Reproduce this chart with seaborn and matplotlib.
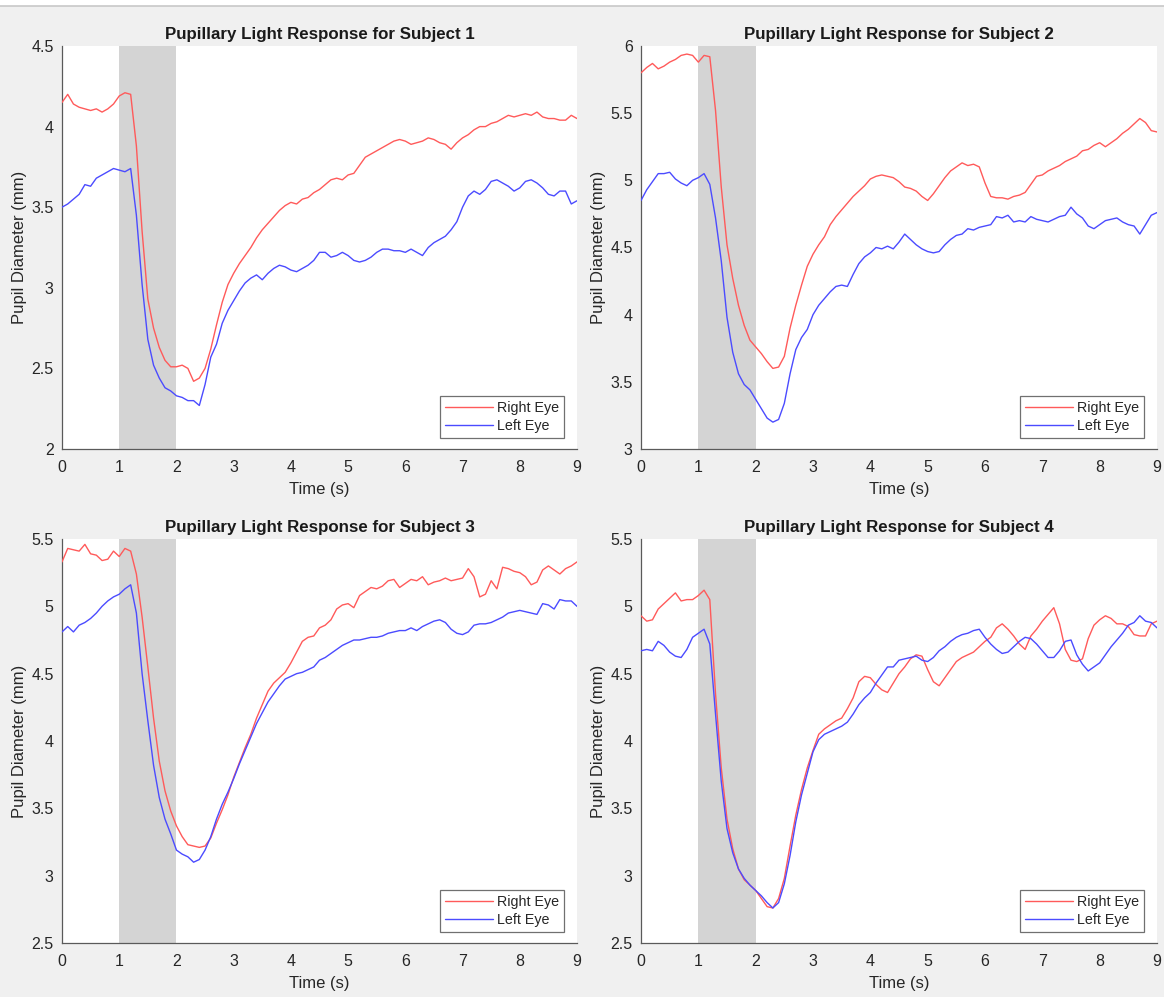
import numpy as np
import pandas as pd
import seaborn as sns
import matplotlib
matplotlib.use("Agg")
import matplotlib.pyplot as plt
from matplotlib.ticker import FuncFormatter, MultipleLocator
from matplotlib.lines import Line2D

# ---------------- data (0.1 s steps) ----------------
time_s = [round(0.1 * i, 1) for i in range(91)]

s1_right = [4.15, 4.20, 4.14, 4.12, 4.11, 4.10, 4.11, 4.09, 4.11, 4.14,
            4.19, 4.21, 4.20, 3.88, 3.35, 2.93, 2.75, 2.63, 2.55, 2.51,
            2.51, 2.52, 2.50, 2.42, 2.44, 2.50, 2.62, 2.77, 2.91, 3.02,
            3.09, 3.15, 3.20, 3.25, 3.31, 3.36, 3.40, 3.44, 3.48, 3.51,
            3.53, 3.52, 3.55, 3.56, 3.59, 3.61, 3.64, 3.67, 3.68, 3.67,
            3.70, 3.71, 3.76, 3.81, 3.83, 3.85, 3.87, 3.89, 3.91, 3.92,
            3.91, 3.89, 3.90, 3.91, 3.93, 3.92, 3.90, 3.89, 3.86, 3.90,
            3.93, 3.95, 3.98, 4.00, 4.00, 4.02, 4.03, 4.05, 4.07, 4.06,
            4.07, 4.08, 4.07, 4.09, 4.06, 4.05, 4.05, 4.04, 4.04, 4.07,
            4.05]
s1_left = [3.50, 3.52, 3.55, 3.58, 3.64, 3.63, 3.68, 3.70, 3.72, 3.74,
           3.73, 3.72, 3.74, 3.45, 3.02, 2.68, 2.52, 2.44, 2.38, 2.36,
           2.33, 2.32, 2.30, 2.30, 2.27, 2.40, 2.57, 2.65, 2.78, 2.86,
           2.92, 2.98, 3.03, 3.06, 3.08, 3.05, 3.09, 3.12, 3.14, 3.13,
           3.11, 3.10, 3.12, 3.14, 3.17, 3.22, 3.22, 3.19, 3.20, 3.22,
           3.20, 3.17, 3.16, 3.17, 3.19, 3.22, 3.24, 3.24, 3.23, 3.23,
           3.22, 3.24, 3.22, 3.20, 3.25, 3.28, 3.30, 3.32, 3.36, 3.41,
           3.50, 3.57, 3.60, 3.58, 3.61, 3.66, 3.67, 3.65, 3.63, 3.60,
           3.62, 3.66, 3.67, 3.65, 3.62, 3.58, 3.57, 3.60, 3.60, 3.52,
           3.54]

s2_right = [5.80, 5.84, 5.87, 5.83, 5.85, 5.88, 5.90, 5.93, 5.94, 5.93,
            5.88, 5.93, 5.92, 5.52, 4.95, 4.52, 4.27, 4.07, 3.92, 3.81,
            3.76, 3.71, 3.65, 3.60, 3.61, 3.69, 3.90, 4.07, 4.22, 4.36,
            4.45, 4.52, 4.58, 4.67, 4.73, 4.78, 4.83, 4.88, 4.92, 4.96,
            5.01, 5.03, 5.04, 5.03, 5.02, 4.99, 4.95, 4.94, 4.92, 4.88,
            4.85, 4.90, 4.96, 5.02, 5.07, 5.10, 5.13, 5.11, 5.12, 5.10,
            4.98, 4.88, 4.87, 4.87, 4.86, 4.88, 4.89, 4.91, 4.97, 5.03,
            5.04, 5.07, 5.09, 5.11, 5.14, 5.16, 5.18, 5.22, 5.23, 5.26,
            5.28, 5.25, 5.28, 5.31, 5.35, 5.38, 5.42, 5.46, 5.43, 5.37,
            5.36]
s2_left = [4.85, 4.93, 4.99, 5.05, 5.05, 5.06, 5.01, 4.98, 4.96, 5.00,
           5.02, 5.05, 4.97, 4.72, 4.40, 3.98, 3.72, 3.56, 3.48, 3.44,
           3.37, 3.30, 3.23, 3.20, 3.22, 3.34, 3.56, 3.74, 3.83, 3.89,
           4.00, 4.07, 4.12, 4.17, 4.21, 4.22, 4.21, 4.30, 4.38, 4.43,
           4.46, 4.50, 4.49, 4.51, 4.49, 4.54, 4.60, 4.56, 4.52, 4.49,
           4.47, 4.46, 4.47, 4.52, 4.56, 4.59, 4.60, 4.64, 4.63, 4.65,
           4.66, 4.67, 4.73, 4.72, 4.74, 4.69, 4.70, 4.69, 4.73, 4.71,
           4.70, 4.69, 4.71, 4.73, 4.74, 4.80, 4.75, 4.72, 4.66, 4.64,
           4.67, 4.70, 4.71, 4.72, 4.69, 4.67, 4.66, 4.60, 4.67, 4.74,
           4.76]

s3_right = [5.33, 5.43, 5.42, 5.41, 5.46, 5.39, 5.38, 5.34, 5.35, 5.41,
            5.37, 5.43, 5.41, 5.24, 4.92, 4.55, 4.17, 3.85, 3.63, 3.48,
            3.37, 3.29, 3.23, 3.22, 3.21, 3.22, 3.28, 3.39, 3.49, 3.60,
            3.73, 3.84, 3.95, 4.05, 4.17, 4.27, 4.37, 4.43, 4.47, 4.51,
            4.58, 4.66, 4.74, 4.77, 4.78, 4.84, 4.86, 4.90, 4.98, 5.01,
            5.02, 4.99, 5.08, 5.11, 5.14, 5.13, 5.15, 5.19, 5.20, 5.14,
            5.17, 5.20, 5.19, 5.22, 5.16, 5.18, 5.19, 5.21, 5.19, 5.20,
            5.21, 5.28, 5.22, 5.07, 5.09, 5.19, 5.13, 5.29, 5.28, 5.26,
            5.25, 5.22, 5.16, 5.18, 5.27, 5.30, 5.27, 5.24, 5.28, 5.30,
            5.33]
s3_left = [4.81, 4.85, 4.81, 4.86, 4.88, 4.91, 4.95, 5.00, 5.04, 5.07,
           5.09, 5.13, 5.16, 4.95, 4.50, 4.15, 3.82, 3.58, 3.42, 3.31,
           3.19, 3.16, 3.14, 3.10, 3.12, 3.19, 3.29, 3.42, 3.53, 3.62,
           3.72, 3.83, 3.93, 4.03, 4.13, 4.21, 4.29, 4.35, 4.41, 4.46,
           4.48, 4.50, 4.51, 4.53, 4.55, 4.60, 4.62, 4.65, 4.68, 4.71,
           4.73, 4.75, 4.75, 4.76, 4.77, 4.77, 4.78, 4.80, 4.81, 4.82,
           4.82, 4.84, 4.82, 4.85, 4.87, 4.89, 4.90, 4.88, 4.83, 4.80,
           4.79, 4.81, 4.86, 4.87, 4.87, 4.88, 4.90, 4.92, 4.95, 4.96,
           4.97, 4.96, 4.95, 4.94, 5.02, 5.01, 4.98, 5.05, 5.04, 5.04,
           5.00]

s4_right = [4.93, 4.89, 4.90, 4.98, 5.02, 5.06, 5.10, 5.04, 5.05, 5.05,
            5.08, 5.12, 5.05, 4.35, 3.80, 3.42, 3.20, 3.05, 2.97, 2.93,
            2.89, 2.83, 2.77, 2.76, 2.83, 2.98, 3.22, 3.45, 3.64, 3.80,
            3.93, 4.05, 4.09, 4.12, 4.15, 4.17, 4.24, 4.32, 4.44, 4.48,
            4.47, 4.42, 4.38, 4.36, 4.43, 4.50, 4.55, 4.61, 4.64, 4.63,
            4.53, 4.44, 4.41, 4.47, 4.53, 4.59, 4.62, 4.64, 4.66, 4.70,
            4.74, 4.77, 4.84, 4.87, 4.83, 4.78, 4.72, 4.68, 4.78, 4.83,
            4.89, 4.94, 4.99, 4.87, 4.68, 4.60, 4.59, 4.61, 4.76, 4.86,
            4.90, 4.93, 4.91, 4.87, 4.87, 4.85, 4.79, 4.78, 4.78, 4.87,
            4.89]
s4_left = [4.67, 4.68, 4.67, 4.74, 4.71, 4.66, 4.63, 4.62, 4.68, 4.77,
           4.80, 4.83, 4.72, 4.20, 3.70, 3.35, 3.17, 3.05, 2.98, 2.93,
           2.89, 2.85, 2.80, 2.76, 2.80, 2.94, 3.15, 3.40, 3.60, 3.76,
           3.92, 4.01, 4.05, 4.07, 4.09, 4.11, 4.14, 4.20, 4.27, 4.32,
           4.36, 4.43, 4.49, 4.55, 4.55, 4.60, 4.61, 4.62, 4.63, 4.60,
           4.59, 4.62, 4.67, 4.70, 4.74, 4.77, 4.79, 4.80, 4.82, 4.83,
           4.77, 4.72, 4.68, 4.65, 4.66, 4.70, 4.74, 4.77, 4.76, 4.72,
           4.67, 4.62, 4.62, 4.67, 4.74, 4.75, 4.64, 4.57, 4.52, 4.55,
           4.58, 4.64, 4.70, 4.75, 4.80, 4.86, 4.88, 4.93, 4.89, 4.88,
           4.84]

subjects = ["Subject 1", "Subject 2", "Subject 3", "Subject 4"]
right_eye = [s1_right, s2_right, s3_right, s4_right]
left_eye = [s1_left, s2_left, s3_left, s4_left]
y_limits = [(2, 4.5), (3, 6), (2.5, 5.5), (2.5, 5.5)]
stim_window = (1, 2)
x_ticks = list(range(0, 10))

# ---------------- styling ----------------
sns.set_theme(style="white")
plt.rcParams["font.family"] = ["Liberation Sans", "DejaVu Sans"]
plt.rcParams["axes.linewidth"] = 0.9

BG = "#F0F0F0"
AX_COLOR = "#5a5a5a"
TXT = "#262626"
palette = {"Right Eye": "#FF5A5A", "Left Eye": "#4B4BFF"}

fig = plt.figure(figsize=(11.64, 9.97), dpi=100, facecolor=BG)
W, H = 1164, 997
# panel pixel boxes: (left, top, right, bottom)
boxes = [(62, 46, 577, 449), (641, 46, 1157, 449),
         (62, 539, 577, 943), (641, 539, 1157, 943)]

fmt = FuncFormatter(lambda v, p: f"{v:g}")

for i, subj in enumerate(subjects):
    l, t, r, b = boxes[i]
    ax = fig.add_axes([l / W, 1 - b / H, (r - l) / W, (b - t) / H])
    ax.set_facecolor("white")
    df = pd.DataFrame({
        "Time": time_s * 2,
        "Diameter": right_eye[i] + left_eye[i],
        "Eye": ["Right Eye"] * len(time_s) + ["Left Eye"] * len(time_s),
    })
    ax.axvspan(stim_window[0], stim_window[1], color="#D4D4D4", lw=0, zorder=0)
    sns.lineplot(data=df, x="Time", y="Diameter", hue="Eye", palette=palette,
                 linewidth=1.0, ax=ax, legend=False, zorder=3, estimator=None)
    ax.set_xlim(0, 9)
    ax.set_ylim(*y_limits[i])
    ax.set_xticks(x_ticks)
    ax.yaxis.set_major_locator(MultipleLocator(0.5))
    ax.xaxis.set_major_formatter(fmt)
    ax.yaxis.set_major_formatter(fmt)
    ax.tick_params(direction="in", length=4, width=0.8, colors=AX_COLOR,
                   labelcolor=TXT, labelsize=11.5)
    ax.tick_params(axis="x", pad=8)
    ax.tick_params(axis="y", pad=6)
    for s in ["top", "right"]:
        ax.spines[s].set_visible(False)
    for s in ["left", "bottom"]:
        ax.spines[s].set_color(AX_COLOR)
    ax.set_xlabel("Time (s)", fontsize=12, color=TXT, labelpad=5)
    ax.set_ylabel("Pupil Diameter (mm)", fontsize=12, color=TXT, labelpad=3)
    ax.set_title(f"Pupillary Light Response for {subj}", fontsize=12.2,
                 fontweight="bold", color="#1a1a1a", pad=5)
    handles = [Line2D([], [], color=palette["Right Eye"], lw=1.0),
               Line2D([], [], color=palette["Left Eye"], lw=1.0)]
    leg = ax.legend(handles, ["Right Eye", "Left Eye"], loc="lower right",
                    fontsize=10.3, frameon=True, fancybox=False, framealpha=1,
                    edgecolor="#707070", borderpad=0.35, labelspacing=0.3,
                    handlelength=3.3, handletextpad=0.3, borderaxespad=0,
                    bbox_to_anchor=((r - 13 - l) / (r - l), 11 / (b - t)))
    leg.get_frame().set_linewidth(0.9)

# thin white strip with a gray border at the very top of the figure
fig.patches.append(plt.Rectangle((0, 1 - 6 / H), 1, 6 / H, transform=fig.transFigure,
                                 facecolor="white", edgecolor="none", zorder=-1))
fig.lines.append(Line2D([0, 1], [1 - 6.5 / H, 1 - 6.5 / H], transform=fig.transFigure,
                        color="#C8C8C8", lw=1.2))

fig.savefig("out.png", dpi=100, facecolor=BG)
